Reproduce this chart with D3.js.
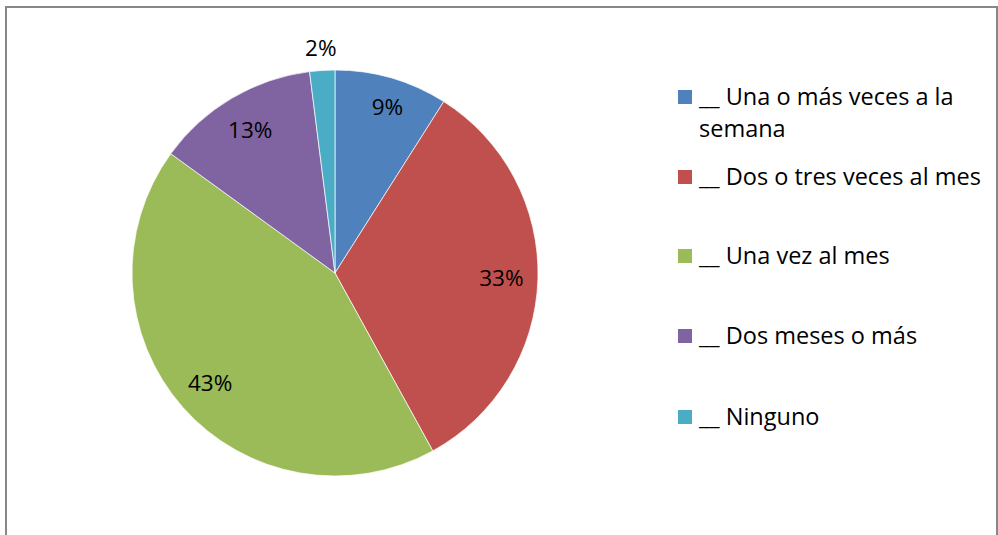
<!DOCTYPE html>
<html>
<head>
<meta charset="utf-8">
<script src="https://cdn.jsdelivr.net/npm/d3@7"></script>
<style>
  html, body { margin: 0; padding: 0; background: #fff; }
  svg { display: block; }
  text { font-family: "Open Sans", Lato, sans-serif; fill: #000; }
</style>
</head>
<body>
<script>
// Frequency categories and their shares (percent)
const categories = [
  "__ Una o más veces a la semana",
  "__ Dos o tres veces al mes",
  "__ Una vez al mes",
  "__ Dos meses o más",
  "__ Ninguno"
];
const values = [9, 33, 43, 13, 2];
const colors = ["#4F81BD", "#C0504D", "#9BBB59", "#8064A2", "#4BACC6"];
// Legend text broken into lines
const legendLines = [
  ["__ Una o más veces a la", "semana"],
  ["__ Dos o tres veces al mes"],
  ["__ Una vez al mes"],
  ["__ Dos meses o más"],
  ["__ Ninguno"]
];

const W = 998, H = 535;
const svg = d3.select("body").append("svg").attr("width", W).attr("height", H);

// Chart frame (bottom edge falls outside the view)
svg.append("rect")
  .attr("x", 6).attr("y", 7)
  .attr("width", 991).attr("height", 560)
  .attr("fill", "none").attr("stroke", "#878787").attr("stroke-width", 2);

const cx = 335, cy = 273, r = 203;
const data = categories.map((c, i) => ({ name: c, value: values[i], color: colors[i] }));

const pie = d3.pie().value(d => d.value).sort(null);
const arc = d3.arc().innerRadius(0).outerRadius(r);
const arcs = pie(data);

const g = svg.append("g").attr("transform", `translate(${cx},${cy})`);
g.selectAll("path").data(arcs).enter().append("path")
  .attr("d", arc)
  .attr("fill", d => d.data.color)
  .attr("stroke", "#fff").attr("stroke-width", 0.7);

// Percentage labels: inside for larger slices, just outside for the smallest
const inner = d3.arc().innerRadius(r * 0.82).outerRadius(r * 0.82);
const outer = d3.arc().innerRadius(r * 1.11).outerRadius(r * 1.11);
g.selectAll("text.pct").data(arcs).enter().append("text")
  .attr("class", "pct")
  .attr("transform", d => {
    const p = (d.data.value < 5 ? outer : inner).centroid(d);
    // the narrow first slice carries its label a little higher
    const lift = d.index === 0 ? -6 : 0;
    return `translate(${p[0] + (d.index === 0 ? 6 : 0)},${p[1] + lift})`;
  })
  .attr("text-anchor", "middle")
  .attr("dy", "0.36em")
  .attr("font-size", 22.5)
  .text(d => d.data.value + "%");

// Legend
const legendX = 678, swatch = 14;
const rowBaselines = [105, 185, 264, 344, 425];
const lineGap = 32;
const lg = svg.append("g");
data.forEach((d, i) => {
  const base = rowBaselines[i];
  lg.append("rect")
    .attr("x", legendX).attr("y", base - 15)
    .attr("width", swatch).attr("height", swatch)
    .attr("fill", d.color);
  legendLines[i].forEach((line, j) => {
    lg.append("text")
      .attr("x", 699).attr("y", base + j * lineGap)
      .attr("font-size", 23.5)
      .text(line);
  });
});
</script>
</body>
</html>
